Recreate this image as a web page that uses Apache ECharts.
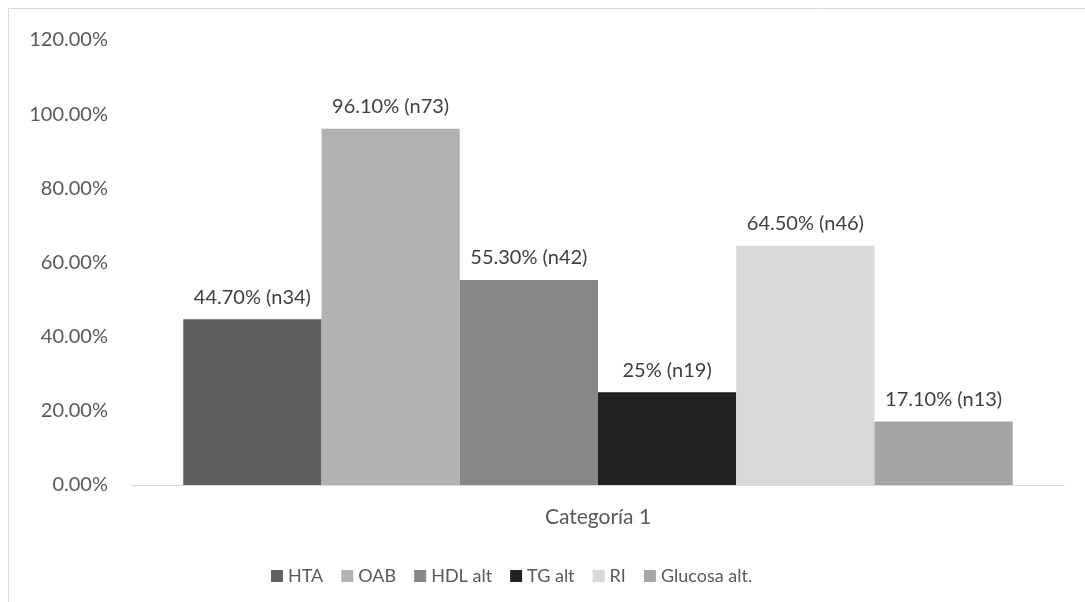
<!DOCTYPE html>
<html>
<head>
<meta charset="utf-8">
<script src="https://cdn.jsdelivr.net/npm/echarts@6/dist/echarts.min.js"></script>
<style>
  html, body { margin: 0; padding: 0; background: #fff; }
  #chart { width: 1085px; height: 602px; }
</style>
</head>
<body>
<div id="chart"></div>
<script>
// Prevalence of each component (percent) and patient counts
const categories = ['Categoría 1'];
const seriesNames = ['HTA', 'OAB', 'HDL alt', 'TG alt', 'RI', 'Glucosa alt.'];
const percentValues = [44.7, 96.1, 55.3, 25, 64.5, 17.1];
const countValues = [34, 73, 42, 19, 46, 13];
const percentLabels = ['44.70%', '96.10%', '55.30%', '25%', '64.50%', '17.10%'];
const yTicks = { min: 0, max: 120, interval: 20 };

const colors = ['#5f5f5f', '#b2b2b2', '#878787', '#222222', '#d9d9d9', '#a5a5a5'];
const fontFamily = 'Lato, "Open Sans", sans-serif';
const textColor = '#595959';

const chart = echarts.init(document.getElementById('chart'), null, { renderer: 'canvas' });

const series = seriesNames.map((name, i) => ({
  name,
  type: 'bar',
  data: [percentValues[i]],
  barGap: '0%',
  barCategoryGap: '11%',
  itemStyle: { color: colors[i] },
  label: {
    show: true,
    position: 'top',
    distance: 12,
    color: '#404040',
    fontSize: 20,
    fontFamily,
    formatter: () => percentLabels[i] + ' (n' + countValues[i] + ')'
  }
}));

chart.setOption({
  animation: false,
  color: colors,
  graphic: [{
    type: 'rect',
    shape: { x: 8.5, y: 8.5, width: 2000, height: 2000 },
    style: { fill: 'none', stroke: '#d9d9d9', lineWidth: 1 },
    silent: true
  }],
  grid: { left: 132, right: 21, top: 40, bottom: 117 },
  xAxis: {
    type: 'category',
    data: categories,
    axisLine: { lineStyle: { color: '#d9d9d9', width: 1 } },
    axisTick: { show: false },
    axisLabel: { color: textColor, fontSize: 21, fontFamily, margin: 22 }
  },
  yAxis: {
    type: 'value',
    min: yTicks.min,
    max: yTicks.max,
    interval: yTicks.interval,
    splitLine: { show: false },
    axisLine: { show: false },
    axisTick: { show: false },
    axisLabel: {
      color: textColor,
      fontSize: 20,
      fontFamily,
      margin: 24,
      formatter: v => v.toFixed(2) + '%'
    }
  },
  legend: {
    data: seriesNames,
    top: 562,
    left: 266,
    icon: 'rect',
    itemWidth: 12,
    itemHeight: 12,
    itemGap: 18,
    textStyle: { color: textColor, fontSize: 18, fontFamily }
  },
  series
});
</script>
</body>
</html>
